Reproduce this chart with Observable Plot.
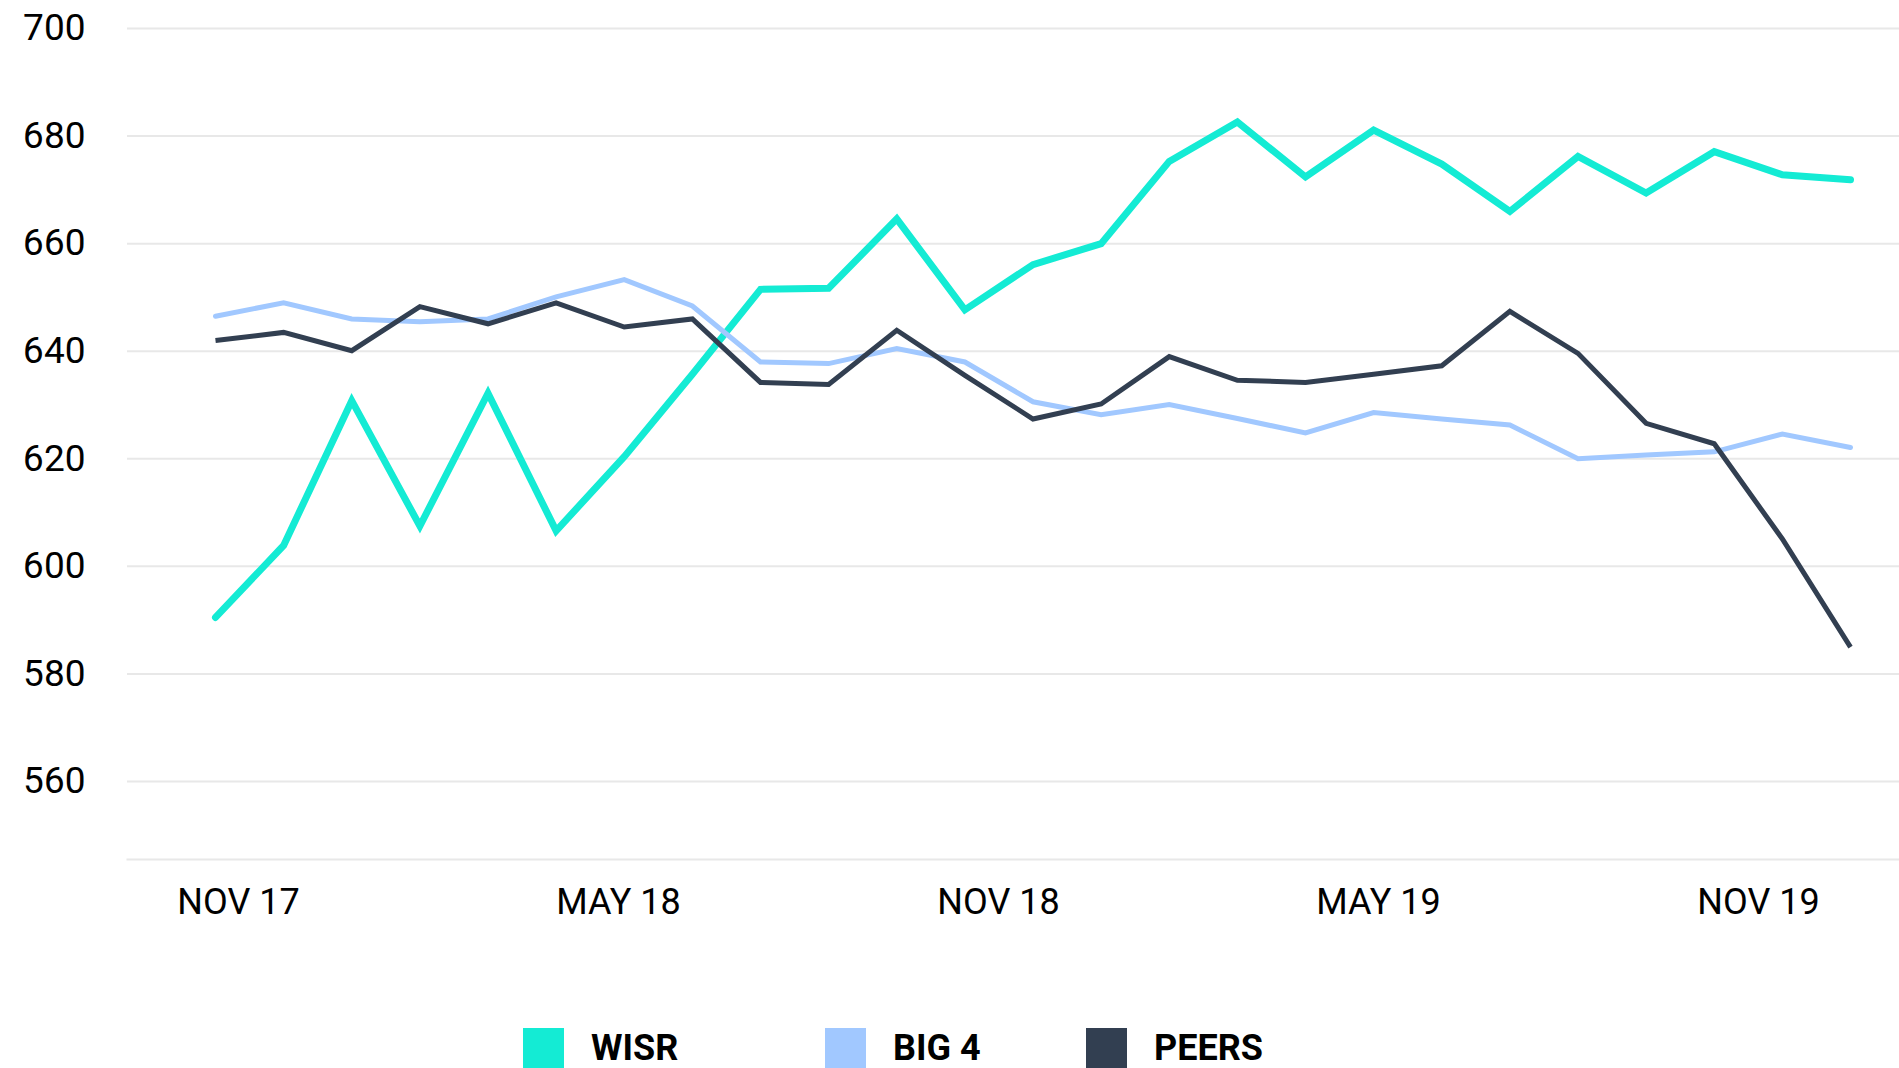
<!DOCTYPE html>
<html>
<head>
<meta charset="utf-8">
<script src="https://cdn.jsdelivr.net/npm/d3@7"></script>
<script src="https://cdn.jsdelivr.net/npm/@observablehq/plot@0.6"></script>
<style>
  html, body { margin: 0; padding: 0; background: #fff; overflow: hidden; }
  #page { position: relative; width: 1899px; height: 1068px; overflow: hidden; font-family: Roboto, sans-serif; }
  #main, #xaxis, #legend { position: absolute; left: 0; }
  #main { top: 0; }
  #xaxis { top: 870px; }
  #legend { top: 1028px; width: 1899px; height: 41px; }
  .item { position: absolute; top: 0; display: flex; align-items: center; height: 41px; }
  .sw { width: 41px; height: 41px; }
  .lab { margin-left: 27px; font-size: 36px; font-weight: 700; color: #000; line-height: 41px; }
  svg { max-width: none !important; }
</style>
</head>
<body>
<div id="page">
  <div id="main"></div>
  <div id="xaxis"></div>
  <div id="legend"></div>
</div>
<script>
// ---- data ----
const months = ["2017-11","2017-12","2018-01","2018-02","2018-03","2018-04","2018-05","2018-06","2018-07","2018-08","2018-09","2018-10","2018-11","2018-12","2019-01","2019-02","2019-03","2019-04","2019-05","2019-06","2019-07","2019-08","2019-09","2019-10","2019-11"];
const wisr  = [590.5, 603.9, 630.8, 607.5, 632.2, 606.6, 620.4, 635.7, 651.5, 651.7, 664.6, 647.7, 656.1, 660.0, 675.3, 682.6, 672.4, 681.1, 674.8, 666.0, 676.2, 669.4, 677.1, 672.8, 671.9];
const big4  = [646.5, 649.0, 646.0, 645.5, 646.0, 650.1, 653.3, 648.4, 638.0, 637.7, 640.5, 638.0, 630.6, 628.2, 630.1, 627.5, 624.8, 628.6, 627.4, 626.3, 620.0, 620.7, 621.3, 624.6, 622.1];
const peers = [642.0, 643.5, 640.1, 648.3, 645.1, 649.0, 644.5, 646.0, 634.2, 633.8, 643.9, 635.5, 627.4, 630.2, 639.0, 634.6, 634.2, 635.7, 637.3, 647.4, 639.6, 626.6, 622.8, 605.1, 585.0];
const seriesNames  = ["WISR", "BIG 4", "PEERS"];
const seriesColors = ["#14EBD4", "#A1C8FF", "#323F51"];
const yTicks = [560, 580, 600, 620, 640, 660, 680, 700];
const yDomain = [545.5, 700];
const xTickLabels = ["NOV 17", "MAY 18", "NOV 18", "MAY 19", "NOV 19"];

// ---- table for the library ----
const rows = months.map((m, i) => ({ i, month: m, wisr: wisr[i], big4: big4[i], peers: peers[i] }));

const gridColor = "#e8e8e8";
const font = "Roboto, sans-serif";

const main = Plot.plot({
  width: 1899,
  height: 870,
  marginTop: 28,
  marginBottom: 11,
  marginLeft: 127,
  marginRight: 0,
  style: { fontFamily: font, color: "#000", background: "transparent", overflow: "visible" },
  x: { type: "linear", domain: [0, months.length - 1], insetLeft: 88, insetRight: 49, axis: null },
  y: { domain: yDomain, axis: null },
  marks: [
    Plot.gridY(yTicks, { stroke: gridColor, strokeOpacity: 1, strokeWidth: 2 }),
    Plot.frame({ anchor: "bottom", stroke: gridColor, strokeOpacity: 1, strokeWidth: 2 }),
    Plot.axisY(yTicks, { tickSize: 0, tickPadding: 42, fontSize: 37, fill: "#000", label: null }),
    Plot.line(rows, { x: "i", y: "wisr", stroke: seriesColors[0], strokeWidth: 7,
      strokeLinecap: "round", strokeLinejoin: "miter", strokeMiterlimit: 12 }),
    Plot.line(rows, { x: "i", y: "big4", stroke: seriesColors[1], strokeWidth: 5,
      strokeLinecap: "round", strokeLinejoin: "miter", strokeMiterlimit: 12 }),
    Plot.line(rows, { x: "i", y: "peers", stroke: seriesColors[2], strokeWidth: 5,
      strokeLinecap: "butt", strokeLinejoin: "miter", strokeMiterlimit: 12 })
  ]
});
document.getElementById("main").appendChild(main);

const xaxis = Plot.plot({
  width: 1899,
  height: 70,
  marginTop: 0,
  marginBottom: 66,
  marginLeft: 237,
  marginRight: 141,
  style: { fontFamily: font, color: "#000", background: "transparent", overflow: "visible" },
  x: { type: "point", domain: xTickLabels, padding: 0, axis: null },
  marks: [
    Plot.axisX({ tickSize: 0, tickPadding: 14, fontSize: 36, fill: "#000", label: null })
  ]
});
document.getElementById("xaxis").appendChild(xaxis);

// ---- legend ----
const legendLeft = [523, 825, 1086];
const legend = document.getElementById("legend");
seriesNames.forEach((name, k) => {
  const item = document.createElement("div");
  item.className = "item";
  item.style.left = legendLeft[k] + "px";
  const sw = document.createElement("div");
  sw.className = "sw";
  sw.style.background = seriesColors[k];
  const lab = document.createElement("div");
  lab.className = "lab";
  lab.textContent = name;
  item.appendChild(sw);
  item.appendChild(lab);
  legend.appendChild(item);
});
</script>
</body>
</html>
